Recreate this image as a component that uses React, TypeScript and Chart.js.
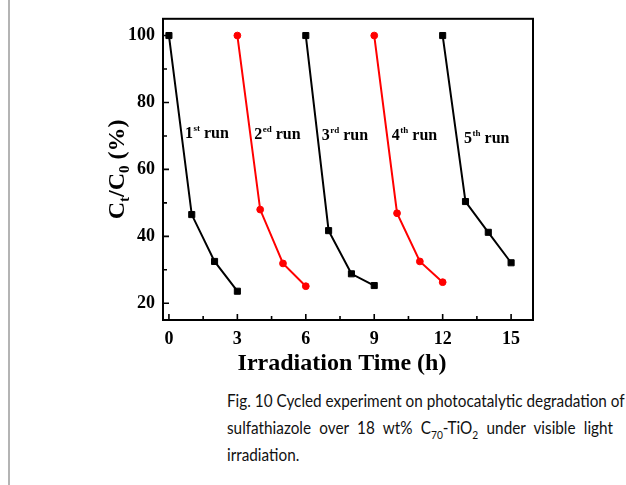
import { useEffect, useRef } from 'react';
import { Chart, registerables } from 'chart.js';

Chart.register(...registerables);

// ---- data ----
const RUN1_T = [0, 1, 2, 3];
const RUN1_C = [100, 46.5, 32.5, 23.6];
const RUN2_T = [3, 4, 5, 6];
const RUN2_C = [100, 48.0, 31.9, 25.1];
const RUN3_T = [6, 7, 8, 9];
const RUN3_C = [100, 41.7, 28.8, 25.3];
const RUN4_T = [9, 10, 11, 12];
const RUN4_C = [100, 46.9, 32.5, 26.3];
const RUN5_T = [12, 13, 14, 15];
const RUN5_C = [100, 50.4, 41.2, 32.1];

const X_LABELS = [0, 3, 6, 9, 12, 15];
const X_MINOR = [1.5, 4.5, 7.5, 10.5, 13.5];
const Y_LABELS = [20, 40, 60, 80, 100];
const Y_MINOR = [30, 50, 70, 90];

const RUN_NUMBERS = ['1', '2', '3', '4', '5'];
const RUN_SUFFIXES = ['st', 'ed', 'rd', 'th', 'th'];
const RUN_LABEL_T = [0.7, 3.74, 6.7, 9.77, 12.94];
const RUN_LABEL_C = [69.4, 69.1, 68.8, 68.8, 68.0];

const X_TITLE = 'Irradiation Time (h)';

const SERIF = "'Liberation Serif', 'Times New Roman', serif";

const toXY = (t: number[], c: number[]) => t.map((x, i) => ({ x, y: c[i] }));

const decor = {
  id: 'decor',
  afterDraw(chart: any) {
    const { ctx, chartArea: a, scales } = chart;
    const xs = scales.x;
    const ys = scales.y;
    ctx.save();
    // frame
    ctx.strokeStyle = '#000';
    ctx.lineWidth = 2;
    ctx.strokeRect(a.left, a.top, a.right - a.left, a.bottom - a.top);
    // inward ticks
    ctx.lineWidth = 1.6;
    ctx.beginPath();
    X_LABELS.forEach((v) => {
      const px = xs.getPixelForValue(v);
      ctx.moveTo(px, a.bottom);
      ctx.lineTo(px, a.bottom - 6);
    });
    X_MINOR.forEach((v) => {
      const px = xs.getPixelForValue(v);
      ctx.moveTo(px, a.bottom);
      ctx.lineTo(px, a.bottom - 4);
    });
    Y_LABELS.forEach((v) => {
      const py = ys.getPixelForValue(v);
      ctx.moveTo(a.left, py);
      ctx.lineTo(a.left + 6, py);
    });
    Y_MINOR.forEach((v) => {
      const py = ys.getPixelForValue(v);
      ctx.moveTo(a.left, py);
      ctx.lineTo(a.left + 4, py);
    });
    ctx.stroke();

    ctx.fillStyle = '#000';
    ctx.textBaseline = 'alphabetic';
    // run annotations
    RUN_NUMBERS.forEach((n, i) => {
      let x = xs.getPixelForValue(RUN_LABEL_T[i]);
      const y = ys.getPixelForValue(RUN_LABEL_C[i]);
      ctx.textAlign = 'left';
      ctx.font = `bold 16px ${SERIF}`;
      ctx.fillText(n, x, y);
      x += ctx.measureText(n).width + 0.5;
      ctx.font = `bold 9px ${SERIF}`;
      ctx.fillText(RUN_SUFFIXES[i], x, y - 7);
      x += ctx.measureText(RUN_SUFFIXES[i]).width + 4;
      ctx.font = `bold 16px ${SERIF}`;
      ctx.fillText('run', x, y);
    });

    // x axis title
    ctx.font = `bold 24px ${SERIF}`;
    ctx.textAlign = 'center';
    ctx.fillText(X_TITLE, (a.left + a.right) / 2 - 6, a.bottom + 50);

    // y axis title: C_t/C_0 (%)
    const parts = [
      { t: 'C', s: 24, dy: 0 },
      { t: 't', s: 15, dy: 5 },
      { t: '/C', s: 24, dy: 0 },
      { t: '0', s: 15, dy: 5 },
      { t: ' (%)', s: 24, dy: 0 },
    ];
    let total = 0;
    parts.forEach((p) => {
      ctx.font = `bold ${p.s}px ${SERIF}`;
      total += ctx.measureText(p.t).width;
    });
    ctx.translate(a.left - 39, (a.top + a.bottom) / 2);
    ctx.rotate(-Math.PI / 2);
    ctx.textAlign = 'left';
    let cx = -total / 2;
    parts.forEach((p) => {
      ctx.font = `bold ${p.s}px ${SERIF}`;
      ctx.fillText(p.t, cx, p.dy);
      cx += ctx.measureText(p.t).width;
    });
    ctx.restore();
  },
};

function ChartView() {
  const ref = useRef<HTMLCanvasElement | null>(null);
  useEffect(() => {
    if (!ref.current) return;
    const black = '#000000';
    const red = '#ff0000';
    const mk = (t: number[], c: number[], color: string, style: string, r: number) => ({
      data: toXY(t, c),
      borderColor: color,
      backgroundColor: color,
      borderWidth: 2,
      pointStyle: style,
      pointRadius: r,
      pointBackgroundColor: color,
      pointBorderColor: color,
      pointBorderWidth: 1,
      tension: 0,
      fill: false,
      showLine: true,
    });
    const chart = new Chart(ref.current, {
      type: 'scatter',
      data: {
        datasets: [
          mk(RUN1_T, RUN1_C, black, 'rect', 4.3),
          mk(RUN2_T, RUN2_C, red, 'circle', 3.4),
          mk(RUN3_T, RUN3_C, black, 'rect', 4.3),
          mk(RUN4_T, RUN4_C, red, 'circle', 3.4),
          mk(RUN5_T, RUN5_C, black, 'rect', 4.3),
        ],
      },
      options: {
        responsive: false,
        animation: false,
        devicePixelRatio: 1,
        layout: { padding: { left: 103, right: 93, top: 17, bottom: 30 } },
        plugins: { legend: { display: false }, tooltip: { enabled: false } },
        scales: {
          x: {
            type: 'linear',
            min: -0.26,
            max: 15.96,
            grid: { display: false, drawTicks: false },
            border: { display: false },
            afterBuildTicks: (s: any) => {
              s.ticks = X_LABELS.map((v) => ({ value: v }));
            },
            afterFit: (s: any) => {
              s.height = 30;
            },
            ticks: {
              padding: 9,
              color: '#000',
              font: { family: SERIF, size: 18, weight: 'bold' },
              callback: (v: any) => String(v),
            },
          },
          y: {
            type: 'linear',
            min: 15,
            max: 105,
            grid: { display: false, drawTicks: false },
            border: { display: false },
            afterBuildTicks: (s: any) => {
              s.ticks = Y_LABELS.map((v) => ({ value: v }));
            },
            afterFit: (s: any) => {
              s.width = 60;
            },
            ticks: {
              padding: 8,
              color: '#000',
              font: { family: SERIF, size: 18, weight: 'bold' },
              callback: (v: any) => String(v),
            },
          },
        },
      } as any,
      plugins: [decor],
    });
    return () => chart.destroy();
  }, []);
  return (
    <canvas
      ref={ref}
      width={626}
      height={380}
      style={{ position: 'absolute', left: 0, top: 0, width: 626, height: 380 }}
    />
  );
}

const CAPTION_SCALE = 0.85;

export default function App() {
  const line: any = {
    whiteSpace: 'nowrap',
    height: 27,
    lineHeight: '27px',
  };
  const sub: any = { fontSize: 12, lineHeight: 0 };
  return (
    <div
      style={{
        position: 'fixed',
        left: 0,
        top: 0,
        width: 626,
        height: 485,
        background: '#fff',
        overflow: 'hidden',
      }}
    >
      <div style={{ position: 'absolute', left: 8, top: 0, width: 2, height: 485, background: '#b4b4b4' }} />
      <ChartView />
      <div
        style={{
          position: 'absolute',
          left: 227,
          top: 387,
          width: 386 / CAPTION_SCALE,
          transform: `scaleX(${CAPTION_SCALE})`,
          transformOrigin: 'left top',
          fontFamily: "Lato, 'Open Sans', sans-serif",
          fontSize: 18,
          color: '#111',
        }}
      >
        <div style={{ ...line, textAlign: 'justify', textAlignLast: 'justify' }}>
          Fig. 10 Cycled experiment on photocatalytic degradation of
        </div>
        <div style={{ ...line, textAlign: 'justify', textAlignLast: 'justify' }}>
          sulfathiazole over 18 wt% C<sub style={sub}>70</sub>-TiO<sub style={sub}>2</sub> under visible light
        </div>
        <div style={line}>irradiation.</div>
      </div>
    </div>
  );
}
